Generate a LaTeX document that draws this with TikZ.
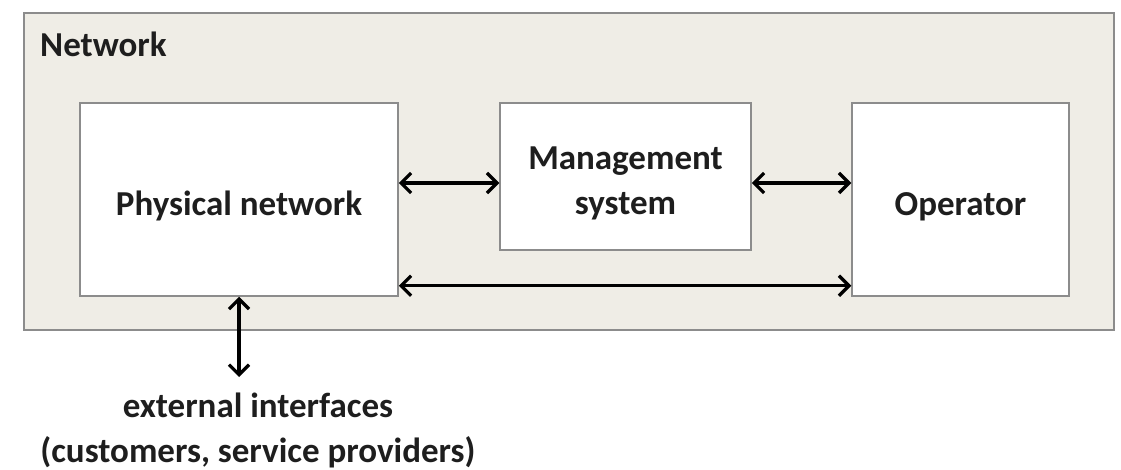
\documentclass[tikz,border=0pt]{standalone}
\usepackage{fontspec}
\setmainfont{Carlito}
\usetikzlibrary{arrows.meta}
\definecolor{netbg}{HTML}{EFEDE6}
\definecolor{boxline}{HTML}{8C8C8C}
\definecolor{txt}{HTML}{1E1E1E}
\begin{document}
\begin{tikzpicture}[x=1pt,y=-1pt,
  lbl/.style={text=txt, font=\bfseries\fontsize{35}{45}\selectfont},
  box/.style={draw=boxline, line width=1.5pt, fill=white, inner sep=0pt, lbl},
  conn/.style={line width=3.2pt, draw=black,
    {Straight Barb[length=10pt,width=20pt]}-{Straight Barb[length=10pt,width=20pt]}}]
\useasboundingbox (0,0) rectangle (1121,470);
\node[draw=boxline, line width=1.5pt, fill=netbg, minimum width=1090pt,
      minimum height=317pt, inner sep=0pt] (net) at (569,171.5) {};
\node[lbl, anchor=base west, inner sep=0pt] (nettitle) at (40,57) {Network};
\node[box, minimum width=318pt, minimum height=193pt, text height=32pt, text depth=0pt]
  (phys) at (239,199.5) {Physical network};
\node[box, minimum width=251pt, minimum height=147pt, align=center,
      text height=77pt, text depth=0pt]
  (mgmt) at (625.5,176.5) {Management\\system};
\node[box, minimum width=217pt, minimum height=193pt, text height=32pt, text depth=0pt]
  (oper) at (960.5,199.5) {Operator};
\coordinate (a1) at ([yshift=-6.5pt]mgmt.west);
\coordinate (a2) at ([yshift=-6.5pt]mgmt.east);
\coordinate (b1) at ([yshift=11pt]phys.south east);
\coordinate (extend) at (239,377);
\draw[conn] (phys.east |- a1) -- (a1);
\draw[conn] (a2) -- (oper.west |- a2);
\draw[conn] (b1) -- (b1 -| oper.west);
\draw[conn] (phys.south) -- (extend);
\node[lbl, align=center, anchor=base, inner sep=0pt] (ext) at (258,462)
  {external interfaces\\(customers, service providers)};
\end{tikzpicture}
\end{document}
